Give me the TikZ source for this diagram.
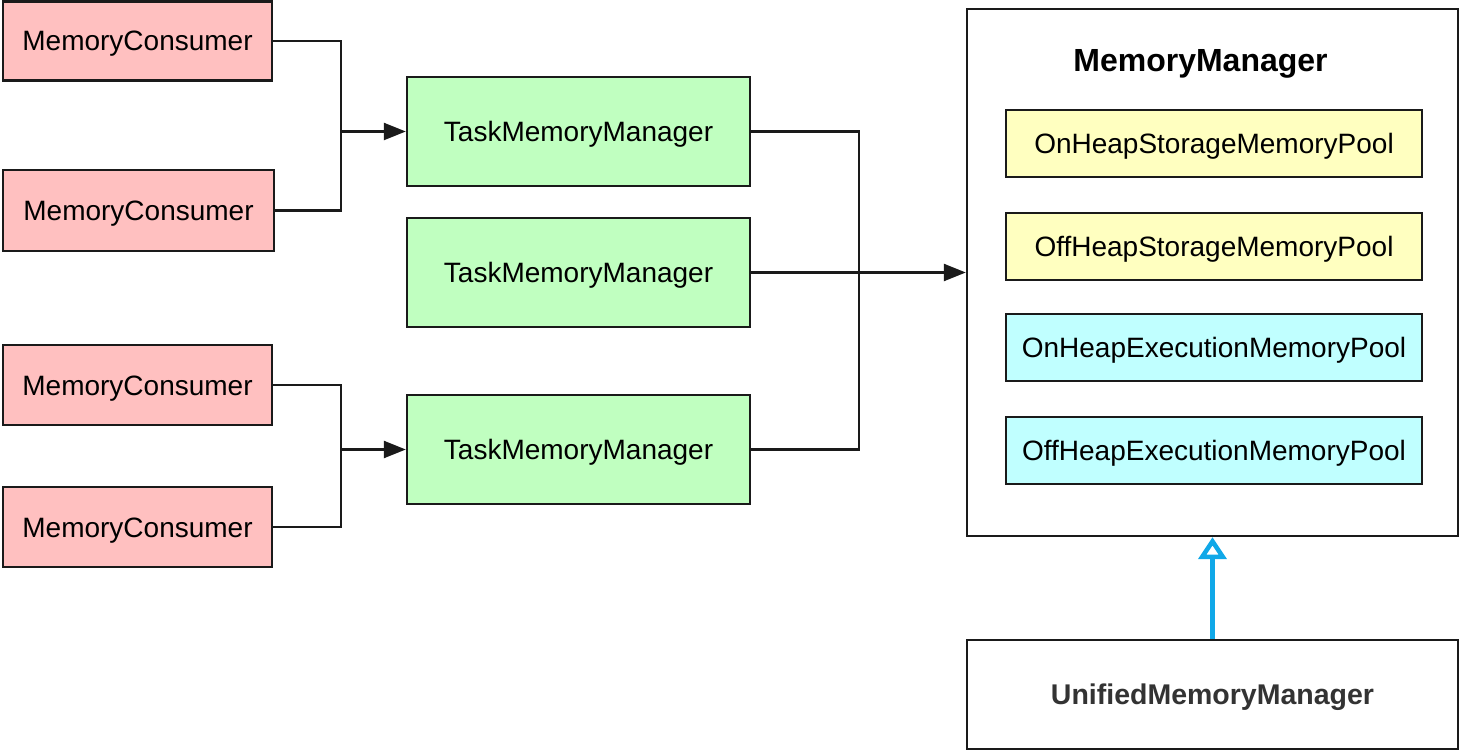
\documentclass[tikz,border=0pt]{standalone}
\usepackage{fontspec}
\setmainfont{Liberation Sans}
\usetikzlibrary{arrows.meta}
\definecolor{pinkfill}{HTML}{FFC0C0}
\definecolor{greenfill}{HTML}{C0FFC0}
\definecolor{yellowfill}{HTML}{FFFFC0}
\definecolor{cyanfill}{HTML}{C0FFFF}
\definecolor{edgeblack}{HTML}{1A1A1A}
\definecolor{arrowblue}{HTML}{10A8E8}
\definecolor{darktext}{HTML}{333333}
\tikzset{
  box/.style={draw=edgeblack, line width=2.4pt, inner sep=0pt, text height=20pt, text depth=0pt, font=\fontsize{28}{34}\selectfont},
  mcbox/.style={box, fill=pinkfill, minimum width=269pt, minimum height=79pt},
  tmmbox/.style={box, fill=greenfill, minimum width=343pt, minimum height=109pt},
  poolbox/.style={box, minimum width=416pt, minimum height=67pt},
  conn/.style={draw=edgeblack, line width=2.4pt},
  arr/.style={conn, -{Triangle[length=22pt,width=17pt]}},
  inherit/.style={draw=arrowblue, line width=4.5pt, -{Triangle[open,length=22pt,width=28pt]}}
}
\begin{document}
\begin{tikzpicture}[x=1pt,y=-1pt]
\useasboundingbox (0,0) rectangle (1459,751);
% MemoryManager container
\node[box, fill=white, minimum width=491pt, minimum height=527pt] (mm) at (1212.5,272.5) {};
\node[font=\fontsize{32}{40}\selectfont\bfseries, inner sep=0pt, text height=23pt, text depth=0pt] (mmtitle) at (1200.5,60) {MemoryManager};
\node[poolbox, fill=yellowfill] (p1) at (1214,143.5) {OnHeapStorageMemoryPool};
\node[poolbox, fill=yellowfill] (p2) at (1214,246.5) {OffHeapStorageMemoryPool};
\node[poolbox, fill=cyanfill] (p3) at (1214,347.5) {OnHeapExecutionMemoryPool};
\node[poolbox, fill=cyanfill] (p4) at (1214,450.5) {OffHeapExecutionMemoryPool};
% UnifiedMemoryManager
\node[box, fill=white, minimum width=491pt, minimum height=109pt, text=darktext, font=\fontsize{28.5}{34}\selectfont\bfseries] (umm) at (1212.5,694.5) {UnifiedMemoryManager};
% Memory consumers
\node[mcbox] (mc1) at (137.5,41) {MemoryConsumer};
\node[mcbox, minimum width=271pt, minimum height=81pt] (mc2) at (138.5,210.5) {MemoryConsumer};
\node[mcbox, minimum height=80pt] (mc3) at (137.5,385) {MemoryConsumer};
\node[mcbox, minimum height=80pt] (mc4) at (137.5,527) {MemoryConsumer};
% Task memory managers
\node[tmmbox] (tmm1) at (578.5,131.5) {TaskMemoryManager};
\node[tmmbox] (tmm2) at (578.5,272.5) {TaskMemoryManager};
\node[tmmbox] (tmm3) at (578.5,449.5) {TaskMemoryManager};
% junctions
\coordinate (j1) at (341,131.5);
\coordinate (j2) at (341,449.5);
\coordinate (j3) at (859,272.5);
% connectors
\draw[conn] (mc1.east) -| (j1);
\draw[conn] (mc2.east) -| (j1);
\draw[arr] (j1) -- (tmm1.west);
\draw[conn] (mc3.east) -| (j2);
\draw[conn] (mc4.east) -| (j2);
\draw[arr] (j2) -- (tmm3.west);
\draw[conn] (tmm1.east) -| (j3);
\draw[conn] (tmm3.east) -| (j3);
\draw[arr] (tmm2.east) -- (mm.west);
\draw[inherit] (umm.north) -- (mm.south);
\end{tikzpicture}
\end{document}
